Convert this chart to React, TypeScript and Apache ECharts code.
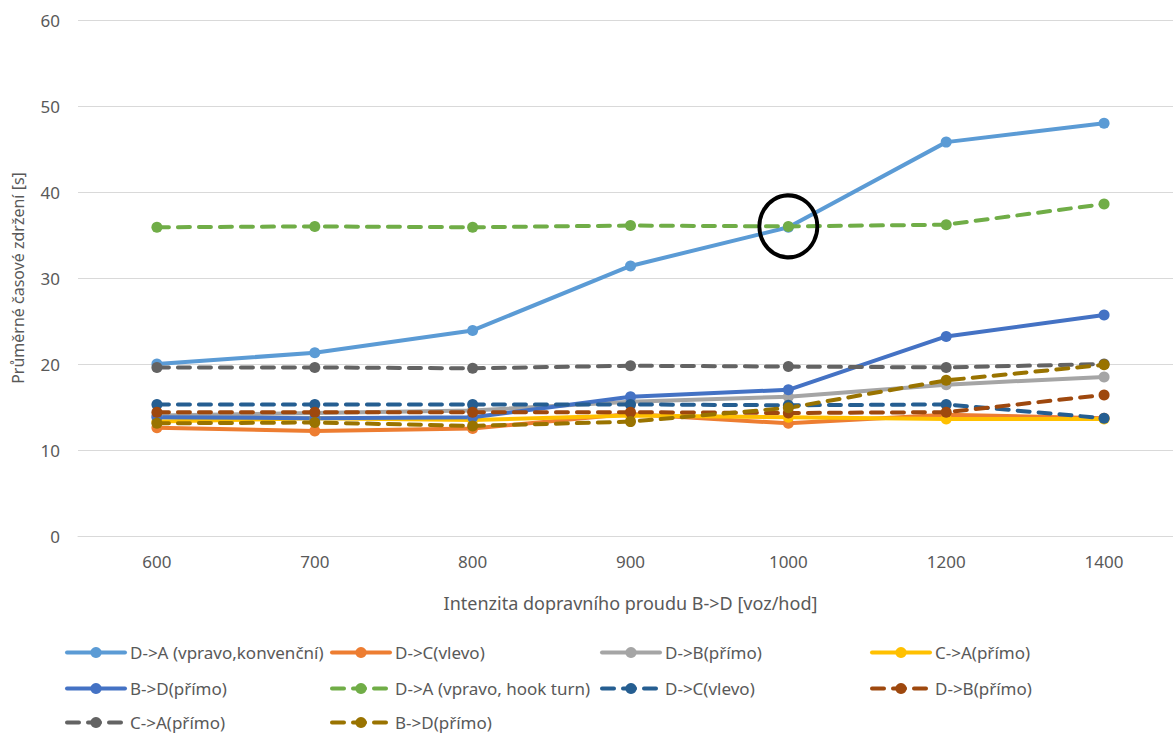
import React, { useEffect, useRef } from "react";
import * as echarts from "echarts";

const categories = ["600", "700", "800", "900", "1000", "1200", "1400"];

const daKonv = [20.0, 21.3, 23.9, 31.4, 35.9, 45.8, 48.0];
const dcSolid = [12.6, 12.2, 12.5, 14.2, 13.1, 14.1, 13.7];
const dbSolid = [14.0, 14.3, 14.6, 15.6, 16.2, 17.6, 18.5];
const caSolid = [13.3, 13.7, 13.5, 14.0, 13.8, 13.6, 13.6];
const bdSolid = [13.8, 13.7, 13.8, 16.2, 17.0, 23.2, 25.7];
const daHook = [35.9, 36.0, 35.9, 36.1, 36.0, 36.2, 38.6];
const dcDash = [15.3, 15.3, 15.3, 15.3, 15.2, 15.3, 13.7];
const dbDash = [14.4, 14.4, 14.4, 14.4, 14.3, 14.4, 16.4];
const caDash = [19.6, 19.6, 19.5, 19.8, 19.7, 19.6, 20.0];
const bdDash = [13.1, 13.2, 12.8, 13.3, 14.9, 18.1, 19.9];

const Z = "\u200b";
const names = {
  daKonv: "D->A (vpravo,konvenční)",
  dcSolid: "D->C(vlevo)",
  dbSolid: "D->B(přímo)",
  caSolid: "C->A(přímo)",
  bdSolid: "B->D(přímo)",
  daHook: "D->A (vpravo, hook turn)",
  dcDash: "D->C(vlevo)" + Z,
  dbDash: "D->B(přímo)" + Z,
  caDash: "C->A(přímo)" + Z,
  bdDash: "B->D(přímo)" + Z,
};

const FONT = "'Noto Sans', sans-serif";
const TXT = "#595959";

function mkSeries(name: string, data: number[], color: string, dashed: boolean, extra: any = {}) {
  return {
    name,
    type: "line",
    data,
    symbol: "circle",
    symbolSize: 11,
    color,
    itemStyle: { color },
    lineStyle: {
      color,
      width: 4,
      type: dashed ? [12, 9] : "solid",
      cap: "round",
    },
    z: dashed ? 3 : 2,
    ...extra,
  };
}

export default function App() {
  const ref = useRef<HTMLDivElement>(null);
  useEffect(() => {
    document.body.style.margin = "0";
    const chart = echarts.init(ref.current!, null, { renderer: "svg" });
    const legendBase = {
      orient: "vertical",
      padding: 0,
      itemWidth: 58,
      itemHeight: 14,
      itemGap: 22,
      lineStyle: { width: 4 },
      textStyle: { color: TXT, fontSize: 17, lineHeight: 14, fontFamily: FONT },
      selectedMode: false,
    };
    const rowTop = [644, 680, 714];
    chart.setOption({
      animation: false,
      backgroundColor: "#ffffff",
      textStyle: { fontFamily: FONT },
      grid: { left: 78, right: -10, top: 20, bottom: 197, outerBoundsMode: "none", containLabel: false },
      xAxis: {
        type: "category",
        data: categories,
        boundaryGap: true,
        axisLine: { show: true, lineStyle: { color: "#d9d9d9" } },
        axisTick: { show: false },
        axisLabel: { color: TXT, fontSize: 17, fontFamily: FONT, margin: 17 },
        name: "Intenzita dopravního proudu B->D [voz/hod]",
        nameLocation: "middle",
        nameGap: 58,
        nameTextStyle: { color: TXT, fontSize: 18, fontFamily: FONT },
      },
      yAxis: {
        type: "value",
        min: 0,
        max: 60,
        interval: 10,
        axisLine: { show: false },
        axisTick: { show: false },
        splitLine: { lineStyle: { color: "#d9d9d9", width: 1 } },
        axisLabel: { color: TXT, fontSize: 17, fontFamily: FONT, margin: 18 },
        name: "Průměrné časové zdržení [s]",
        nameLocation: "middle",
        nameGap: 52,
        nameRotate: 90,
        nameTextStyle: { color: TXT, fontSize: 16, fontFamily: FONT },
      },
      legend: [
        { ...legendBase, left: 65, top: rowTop[0], data: [names.daKonv] },
        { ...legendBase, left: 330, top: rowTop[0], data: [names.dcSolid] },
        { ...legendBase, left: 600, top: rowTop[0], data: [names.dbSolid] },
        { ...legendBase, left: 870, top: rowTop[0], data: [names.caSolid] },
        { ...legendBase, left: 65, top: rowTop[1], data: [names.bdSolid] },
        { ...legendBase, left: 330, top: rowTop[1], data: [names.daHook] },
        { ...legendBase, left: 600, top: rowTop[1], data: [names.dcDash] },
        { ...legendBase, left: 870, top: rowTop[1], data: [names.dbDash] },
        { ...legendBase, left: 65, top: rowTop[2], data: [names.caDash] },
        { ...legendBase, left: 330, top: rowTop[2], data: [names.bdDash] },
      ],
      series: [
        mkSeries(names.daKonv, daKonv, "#5B9BD5", false),
        mkSeries(names.dcSolid, dcSolid, "#ED7D31", false),
        mkSeries(names.dbSolid, dbSolid, "#A5A5A5", false),
        mkSeries(names.caSolid, caSolid, "#FFC000", false),
        mkSeries(names.bdSolid, bdSolid, "#4472C4", false),
        mkSeries(names.daHook, daHook, "#70AD47", true, {
          markPoint: {
            symbol: "circle",
            symbolSize: [58, 62],
            silent: true,
            label: { show: false },
            itemStyle: { color: "rgba(0,0,0,0)", borderColor: "#000000", borderWidth: 4 },
            data: [{ coord: [categories[4], daHook[4]] }],
          },
        }),
        mkSeries(names.dcDash, dcDash, "#255E91", true),
        mkSeries(names.dbDash, dbDash, "#9E480E", true),
        mkSeries(names.caDash, caDash, "#636363", true),
        mkSeries(names.bdDash, bdDash, "#997300", true),
      ],
    });
    return () => chart.dispose();
  }, []);
  return <div ref={ref} style={{ width: 1173, height: 733 }} />;
}
